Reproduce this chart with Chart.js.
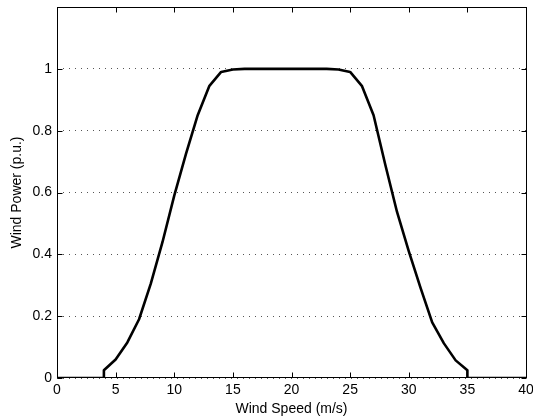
<!DOCTYPE html>
<html>
<head>
<meta charset="utf-8">
<script src="https://cdn.jsdelivr.net/npm/chart.js@4.4.1/dist/chart.umd.min.js"></script>
<style>
  html, body { margin: 0; padding: 0; background: #fff; }
  #wrap { width: 533px; height: 418px; }
</style>
</head>
<body>
<div id="wrap"><canvas id="c" width="533" height="418"></canvas></div>
<script>
// Data
const windSpeed = [0, 4, 4, 5, 6, 7, 8, 9, 10, 11, 12, 13, 14, 15, 16, 17, 18, 19, 20, 21, 22, 23, 24, 25, 26, 27, 28, 29, 30, 31, 32, 33, 34, 35, 35, 40];
const windPower = [0, 0, 0.025, 0.06, 0.115, 0.19, 0.305, 0.44, 0.59, 0.725, 0.85, 0.945, 0.99, 0.998, 1, 1, 1, 1, 1, 1, 1, 1, 0.998, 0.99, 0.945, 0.85, 0.69, 0.537, 0.41, 0.292, 0.18, 0.112, 0.057, 0.025, 0, 0];
const xTicks = [0, 5, 10, 15, 20, 25, 30, 35, 40];
const yTicks = [0, 0.2, 0.4, 0.6, 0.8, 1];
const yTickLabels = ['0', '0.2', '0.4', '0.6', '0.8', '1'];
const xTitle = 'Wind Speed (m/s)';
const yTitle = 'Wind Power (p.u.)';

const points = windSpeed.map((x, i) => ({ x: x, y: windPower[i] }));
const FONT = 'Helvetica, Arial, "Liberation Sans", sans-serif';

const framePlugin = {
  id: 'frame',
  afterDraw(chart) {
    const { ctx, chartArea: a, scales: { x, y } } = chart;
    const L = Math.round(a.left) + 0.5, R = Math.round(a.right) + 0.5;
    const T = Math.round(a.top) + 0.5, B = Math.round(a.bottom) - 0.5;
    const tl = 5;
    ctx.save();
    ctx.strokeStyle = '#000';
    ctx.lineWidth = 1;
    ctx.beginPath();
    xTicks.forEach(v => {
      const px = Math.round(x.getPixelForValue(v)) + 0.5;
      ctx.moveTo(px, B); ctx.lineTo(px, B - tl);
      ctx.moveTo(px, T); ctx.lineTo(px, T + tl);
    });
    yTicks.forEach(v => {
      const py = Math.round(y.getPixelForValue(v)) + 0.5;
      ctx.moveTo(L, py); ctx.lineTo(L + tl, py);
      ctx.moveTo(R, py); ctx.lineTo(R - tl, py);
    });
    ctx.stroke();
    ctx.strokeRect(L, T, R - L, B - T);
    ctx.restore();
  }
};

new Chart(document.getElementById('c'), {
  type: 'line',
  data: {
    datasets: [{
      data: points,
      borderColor: '#000',
      borderWidth: 2.6,
      pointRadius: 0,
      tension: 0,
      fill: false,
      borderJoinStyle: 'round'
    }]
  },
  options: {
    responsive: false,
    animation: false,
    devicePixelRatio: 1,
    layout: { padding: { top: 7, right: 7, left: 0, bottom: 0 } },
    plugins: { legend: { display: false }, tooltip: { enabled: false } },
    scales: {
      x: {
        type: 'linear',
        min: 0, max: 40,
        afterBuildTicks: s => { s.ticks = xTicks.map(v => ({ value: v })); },
        afterFit: s => { s.height = 40; s.paddingLeft = 0; s.paddingRight = 0; },
        grid: { display: false, drawTicks: false },
        border: { display: false },
        ticks: { padding: 4, color: '#000', font: { family: FONT, size: 14 }, maxRotation: 0, autoSkip: false },
        title: { display: true, text: xTitle, color: '#000', font: { family: FONT, size: 14 }, padding: { top: 0, bottom: 0 } }
      },
      y: {
        type: 'linear',
        min: 0, max: 1.2,
        afterBuildTicks: s => { s.ticks = yTicks.map(v => ({ value: v })); },
        afterFit: s => { s.width = 57; s.paddingTop = 0; s.paddingBottom = 0; },
        grid: { display: true, drawTicks: false, color: '#555', lineWidth: 1 },
        border: { display: false, dash: [1, 5] },
        ticks: {
          padding: 5, color: '#000', font: { family: FONT, size: 14 }, autoSkip: false,
          callback: (v) => { const i = yTicks.findIndex(t => Math.abs(t - v) < 1e-9); return i >= 0 ? yTickLabels[i] : ''; }
        },
        title: { display: true, text: yTitle, color: '#000', font: { family: FONT, size: 14 }, padding: { top: 9, bottom: 0 } }
      }
    }
  },
  plugins: [framePlugin]
});
</script>
</body>
</html>
